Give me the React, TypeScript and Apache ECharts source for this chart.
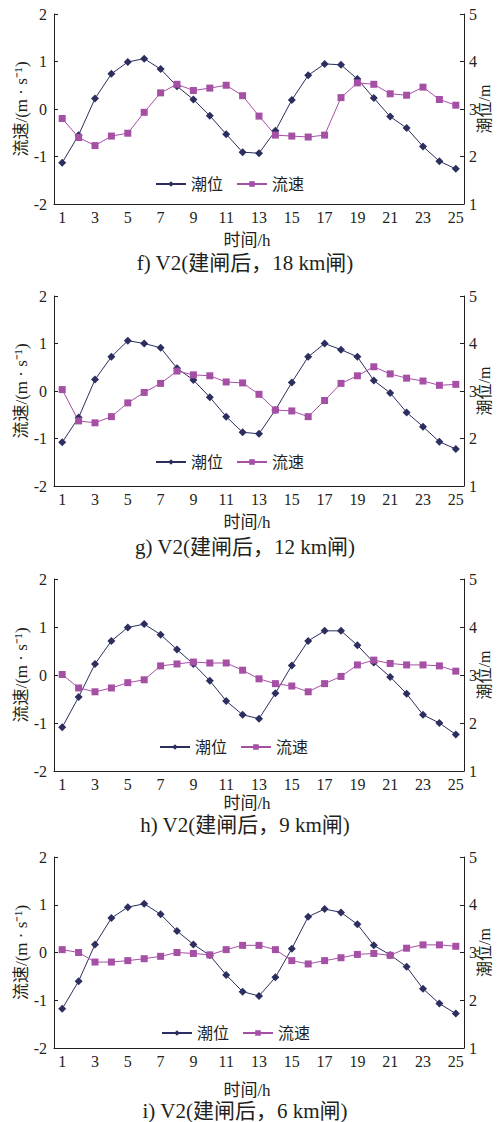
import React, { useEffect, useRef } from "react";
import * as echarts from "echarts";

const hours = Array.from({ length: 25 }, (_, i) => String(i + 1));

const tideF = [1.87, 2.45, 3.22, 3.74, 3.99, 4.06, 3.84, 3.48, 3.2, 2.86, 2.47, 2.09, 2.07, 2.54, 3.19, 3.71, 3.95, 3.93, 3.63, 3.23, 2.84, 2.6, 2.21, 1.9, 1.74];
const flowF = [-0.2, -0.6, -0.77, -0.57, -0.51, -0.07, 0.34, 0.52, 0.39, 0.44, 0.5, 0.28, -0.15, -0.55, -0.57, -0.59, -0.55, 0.24, 0.55, 0.52, 0.32, 0.29, 0.46, 0.2, 0.08];

const tideG = [1.92, 2.44, 3.24, 3.72, 4.06, 4.0, 3.91, 3.48, 3.23, 2.87, 2.46, 2.13, 2.1, 2.6, 3.18, 3.72, 4.0, 3.87, 3.72, 3.22, 2.96, 2.55, 2.25, 1.93, 1.78];
const flowG = [0.03, -0.63, -0.67, -0.54, -0.25, -0.03, 0.16, 0.42, 0.34, 0.32, 0.19, 0.17, -0.07, -0.4, -0.42, -0.54, -0.2, 0.16, 0.32, 0.51, 0.36, 0.27, 0.21, 0.12, 0.14];

const tideH = [1.91, 2.54, 3.23, 3.71, 3.99, 4.06, 3.84, 3.53, 3.23, 2.88, 2.46, 2.17, 2.09, 2.62, 3.2, 3.71, 3.92, 3.92, 3.62, 3.26, 2.96, 2.61, 2.17, 2.0, 1.76];
const flowH = [0.01, -0.27, -0.35, -0.27, -0.16, -0.1, 0.19, 0.23, 0.27, 0.25, 0.25, 0.1, -0.08, -0.18, -0.23, -0.35, -0.18, -0.03, 0.21, 0.31, 0.24, 0.21, 0.21, 0.19, 0.08];

const tideI = [1.82, 2.4, 3.17, 3.72, 3.95, 4.02, 3.8, 3.45, 3.17, 2.94, 2.53, 2.18, 2.09, 2.48, 3.08, 3.75, 3.91, 3.84, 3.59, 3.15, 2.95, 2.7, 2.24, 1.93, 1.72];
const flowI = [0.06, 0.0, -0.2, -0.2, -0.17, -0.13, -0.08, 0.0, -0.02, -0.05, 0.06, 0.15, 0.15, 0.06, -0.17, -0.24, -0.17, -0.11, -0.04, -0.02, -0.06, 0.09, 0.16, 0.16, 0.13];

const panelTitles = [
  "f) V2(建闸后，18 km闸)",
  "g) V2(建闸后，12 km闸)",
  "h) V2(建闸后，9 km闸)",
  "i) V2(建闸后，6 km闸)",
];
const leftTicks = [-2, 2];
const rightTicks = [1, 5];
const seriesNames = ["潮位", "流速"];
const xName = "时间/h";
const leftName = "流速/(m · s⁻¹)";
const rightName = "潮位/m";

const panels = [
  { tide: tideF, flow: flowF, top: 14, height: 190, legendY: 185, nameY: 240, titleY: 263, legendX: 155 },
  { tide: tideG, flow: flowG, top: 296, height: 190, legendY: 463, nameY: 522, titleY: 547, legendX: 155 },
  { tide: tideH, flow: flowH, top: 579, height: 192, legendY: 748, nameY: 803, titleY: 825, legendX: 159 },
  { tide: tideI, flow: flowI, top: 857, height: 191, legendY: 1034, nameY: 1090, titleY: 1111, legendX: 161 },
];

const FONT = "Liberation Serif, Noto Sans CJK SC, serif";
const TEXT = "#231f20";
const AXIS = "#231f20";
const NAVY = "#2b2e5e";
const PURPLE = "#a550a5";

export default function App() {
  const ref = useRef<HTMLDivElement>(null);
  useEffect(() => {
    if (!ref.current) return;
    const chart = echarts.init(ref.current, undefined, { renderer: "svg" });
    const grid: any[] = [];
    const xAxis: any[] = [];
    const yAxis: any[] = [];
    const series: any[] = [];
    const legend: any[] = [];
    const graphic: any[] = [];
    panels.forEach((p, i) => {
      grid.push({ left: 54, right: 37, top: p.top, height: p.height });
      xAxis.push({
        type: "category",
        gridIndex: i,
        data: hours,
        boundaryGap: true,
        axisLine: { onZero: false, lineStyle: { color: AXIS, width: 1 } },
        axisTick: { inside: true, length: 4, interval: 0, lineStyle: { color: AXIS } },
        axisLabel: { interval: 1, color: TEXT, fontFamily: FONT, fontSize: 16, margin: 5 },
      });
      yAxis.push({
        type: "value",
        gridIndex: i,
        min: leftTicks[0],
        max: leftTicks[1],
        interval: 1,
        position: "left",
        splitLine: { show: false },
        axisLine: { show: true, onZero: false, lineStyle: { color: AXIS, width: 1 } },
        axisTick: { show: true, inside: true, length: 4, lineStyle: { color: AXIS } },
        axisLabel: { color: TEXT, fontFamily: FONT, fontSize: 16, margin: 7 },
      });
      yAxis.push({
        type: "value",
        gridIndex: i,
        min: rightTicks[0],
        max: rightTicks[1],
        interval: 1,
        position: "right",
        splitLine: { show: false },
        axisLine: { show: true, onZero: false, lineStyle: { color: AXIS, width: 1 } },
        axisTick: { show: true, inside: true, length: 4, lineStyle: { color: AXIS } },
        axisLabel: { color: TEXT, fontFamily: FONT, fontSize: 16, margin: 5 },
      });
      series.push({
        name: seriesNames[0],
        type: "line",
        xAxisIndex: i,
        yAxisIndex: 2 * i + 1,
        data: p.tide,
        symbol: "diamond",
        symbolSize: 8,
        lineStyle: { color: NAVY, width: 1 },
        itemStyle: { color: NAVY },
      });
      series.push({
        name: seriesNames[1],
        type: "line",
        xAxisIndex: i,
        yAxisIndex: 2 * i,
        data: p.flow,
        symbol: "rect",
        symbolSize: 7,
        lineStyle: { color: PURPLE, width: 1 },
        itemStyle: { color: PURPLE },
      });
      legend.push({
        data: seriesNames,
        left: p.legendX,
        top: p.legendY - 9,
        padding: 0,
        itemWidth: 30,
        itemHeight: 7,
        itemGap: 13,
        textStyle: { fontFamily: FONT, fontSize: 16, color: TEXT },
        selectedMode: false,
      });
      const midY = p.top + p.height / 2;
      graphic.push({
        type: "text",
        x: 21,
        y: midY,
        rotation: Math.PI / 2,
        style: {
          text: leftName,
          fontFamily: FONT,
          fontSize: 17,
          fill: TEXT,
          textAlign: "center",
          textVerticalAlign: "middle",
        },
      });
      graphic.push({
        type: "text",
        x: 484,
        y: midY,
        rotation: Math.PI / 2,
        style: {
          text: rightName,
          fontFamily: FONT,
          fontSize: 16,
          fill: TEXT,
          textAlign: "center",
          textVerticalAlign: "middle",
        },
      });
      graphic.push({
        type: "text",
        x: 247,
        y: p.nameY,
        style: {
          text: xName,
          fontFamily: FONT,
          fontSize: 17,
          fill: TEXT,
          textAlign: "center",
          textVerticalAlign: "middle",
        },
      });
      graphic.push({
        type: "text",
        x: 245,
        y: p.titleY,
        style: {
          text: panelTitles[i],
          fontFamily: FONT,
          fontSize: 21,
          fill: TEXT,
          textAlign: "center",
          textVerticalAlign: "middle",
        },
      });
    });
    chart.setOption({
      animation: false,
      backgroundColor: "#ffffff",
      grid,
      xAxis,
      yAxis,
      series,
      legend,
      graphic,
    });
    return () => chart.dispose();
  }, []);
  return (
    <div
      ref={ref}
      style={{ position: "fixed", left: 0, top: 0, width: 501, height: 1122, background: "#fff" }}
    />
  );
}
